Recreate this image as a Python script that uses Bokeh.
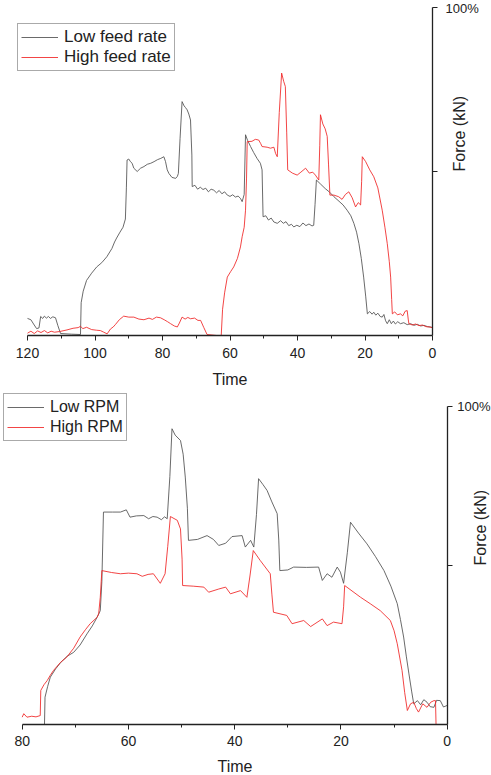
import math
from bokeh.plotting import figure
from bokeh.layouts import column
from bokeh.models import Range1d, FixedTicker, Legend, LegendItem
from bokeh.embed import file_html
from bokeh.resources import INLINE

FONT = "Liberation Sans"
BLACK = "#505050"
RED = "#f02424"

# ---------------- data (time, force %) ----------------
low_feed = [(120,5.2),(119,4.8),(118.2,3.5),(117.3,2.1),(116.6,2.3),(116.1,5.8),(115.5,5.2),(115,5.9),(114.4,5.3),(113.8,5.8),(113.2,5.2),(112.5,5.7),(111.7,5.4),(111,3),(110.2,0.6),(107,0.4),(104.3,0.3),(104.1,10),(103.5,13.5),(102.5,16.8),(101,19),(99.5,20.9),(98,22.2),(96.5,24),(95,26.5),(94.2,28.5),(93.6,29.7),(92.6,31.5),(91.7,33),(91,35.5),(90.7,45),(90.5,53.5),(90,53.8),(89.5,53),(89,52.5),(88.5,51),(87.5,50),(86.5,51),(85.5,51.5),(84.5,52.2),(83.5,52.5),(82.5,53),(81.5,53.6),(80.5,54),(79.6,54.5),(79.1,53),(78.6,50.5),(78.1,49.4),(77.2,48.2),(76.1,47.9),(75.6,48.5),(75.3,49.4),(74.8,60),(74.2,71.3),(73.6,70),(73.2,69.5),(72.7,68.8),(72.2,67.5),(71.7,65.7),(71.3,55),(71.2,45.4),(70.4,45.8),(69.6,44.6),(68.8,45.2),(68,44.5),(67.2,44.9),(66.4,43.8),(65.6,44.6),(64.8,44.3),(64,43.5),(63.2,44.2),(62.4,43.2),(61.6,43.8),(60.8,42.8),(60,42.4),(59.2,42.9),(58.4,42.2),(57.6,42.5),(56.9,41.8),(56.4,40.8),(55.8,43),(55.4,61.2),(54.8,59.5),(53.9,57.6),(53,55.8),(52,54),(51,52.5),(50.5,50.5),(50.2,36.2),(49.4,36.5),(48.6,35.2),(47.8,35.8),(47,34.6),(46,34.2),(45,35),(44.2,34.2),(43.4,34.7),(42.6,33.5),(41.8,33.9),(41.1,33.1),(40.2,33.6),(39.3,33.2),(38.4,34.3),(37.5,33.5),(36.6,34),(35.7,33.4),(35.2,33.6),(34.8,40),(34.4,47.4),(33.2,46.2),(31.8,44.8),(30.5,43.7),(29.2,42.3),(28,41.2),(26.5,39.8),(25.3,38.2),(24.2,36.5),(23.3,34.2),(22.5,31.5),(21.8,28),(21.1,23.5),(20.4,17.8),(19.8,12),(19.3,6.6),(18.6,7.3),(17.9,6.5),(17.4,7.1),(16.8,6.2),(16.2,6.8),(15.5,5.8),(14.9,5.6),(14.4,6.4),(13.9,4.5),(13.4,3.6),(12.8,4.8),(12.2,3.6),(11.6,4.4),(11,3.5),(10.3,4.2),(9.5,3.6),(8.5,3.9),(7.5,3.3),(6.5,3.6),(5.5,3.1),(4.5,3.4),(3.5,2.9),(2.5,3.1),(1.5,2.7),(0.6,2.6),(0,2.4)]

high_feed = [(120,0.7),(119,1.3),(118,0.6),(117,1.4),(116,0.9),(115,1.5),(114,0.8),(113,1.3),(112,1.0),(110.5,1.2),(108.3,1.7),(106.5,2.2),(105,2.4),(104.3,2.8),(103.6,2.1),(102.5,2.5),(101,1.8),(99.5,1.6),(98.4,1.5),(97.4,1.0),(96.4,0.5),(95.4,2),(94.6,2.6),(93.9,3.4),(92.8,4.8),(91.5,5.9),(90,5.6),(88.5,5.6),(87,5.0),(85.5,4.8),(84,5.3),(83,4.9),(81.8,5.6),(80.6,5.4),(79.5,4.8),(78.5,4.2),(77.6,3.6),(76.5,2.9),(75.6,2.6),(75,3.8),(74.2,5.6),(73.3,5.0),(72.5,5.5),(71.7,5.1),(70.5,5.3),(69.5,4.6),(68.7,4.6),(67.8,2.5),(66.8,0.3),(64,0),(62.6,0),(62.2,8),(61.6,13),(60.8,17.8),(59.8,19.5),(58.9,20.9),(57.8,23.5),(56.9,27),(56.4,30.1),(55.8,33),(55.4,38.2),(55.1,48),(54.9,59.1),(53.5,59.2),(52.5,59.8),(51.5,59.6),(50.9,58.5),(50.5,57.6),(49,57.4),(48,57.1),(47,57.4),(46.5,55.5),(46,54.5),(45.4,68),(44.7,80),(44.1,77.5),(43.6,75.9),(43.2,62),(42.9,50.5),(41.5,49.5),(40.1,48.9),(39,49.8),(37.6,51),(36.5,49.5),(35.5,49.8),(34.7,48.9),(33.7,47.4),(33.4,58),(33.2,67.3),(32.5,64.5),(31.8,63),(31.2,60.7),(30.8,52),(30.4,42.8),(29.2,42.8),(27.8,42.3),(26.8,41.5),(25.8,43),(24.8,43.8),(23.8,42),(22.8,39.2),(22,40.5),(21.3,39.8),(21,47),(20.8,54.5),(19.8,53),(18.6,50.5),(17.4,48.4),(16.2,45),(14.9,38.2),(14.1,33),(13.4,28),(12.8,22.5),(12.4,17.8),(12.1,11),(11.9,6.6),(11.2,7.2),(10.4,6.3),(9.5,6.6),(8.8,6.0),(8.1,7.4),(7.5,7.6),(7.2,5),(7,3.6),(6,3.2),(5,3.5),(4,3.0),(3,3.2),(2,2.7),(1,2.6),(0,2.4)]

low_rpm = [(75.8,0),(75.7,8.6),(75.2,12),(74.7,14.9),(73.7,17.5),(72.7,19.6),(71.5,21.5),(70.3,22.7),(69.1,25),(67.8,28.5),(66.8,31),(65.9,33.7),(65.3,35.8),(65.0,45),(64.7,66.8),(63,66.8),(61.5,66.8),(60.4,67.5),(59.7,65.2),(58.5,65.6),(57.1,65.7),(56.2,64.7),(55.4,65.4),(54.6,65.2),(53.8,64.4),(53.2,65.3),(52.7,64.7),(52.2,78),(51.8,93),(51.2,91),(50.2,89.3),(49.7,85),(49.3,77.8),(48.9,68),(48.7,57.9),(47,58.2),(45.2,59.4),(44,58.2),(43,56.3),(41.7,57),(40.5,59.1),(38.6,59.4),(38,55.8),(37,57.9),(36.4,55.8),(35.9,66),(35.5,77.3),(34.7,75.5),(33.9,73.6),(33,70),(32,66.3),(31.7,58),(31.5,48.4),(30,48.6),(28.9,49.5),(26.5,49.4),(24.2,49.5),(23.5,45.3),(22.6,47.4),(21.7,46.3),(20.7,49.5),(20.1,47.9),(19.5,44.4),(18.8,54),(18.2,63.6),(16.7,60.2),(15.1,56.8),(13.5,52.8),(11.9,48.4),(10.6,43.5),(9.4,38),(8.8,33),(8.2,27.5),(7.7,21.5),(7.2,15.9),(6.7,10.5),(6.3,6.5),(5.6,7.5),(5,6.2),(4.4,7.8),(3.8,7),(3.2,5.6),(2.5,5.4),(2.0,7.6),(1.3,7.5),(0.7,5.5),(0,6)]

high_rpm = [(80,2.3),(79.7,3.4),(79.1,2.3),(78.2,2.6),(77.4,2.4),(76.6,2.8),(76.5,10.7),(75.9,12.5),(75.3,13.8),(74.7,15.5),(74.1,17),(72.8,19.5),(71.6,21.2),(70.3,24),(69.1,27.5),(68.1,29.8),(67.2,31.7),(65.9,33.7),(65.6,34.8),(65.3,40),(65,48.4),(63.2,47.8),(61.5,47.4),(60,47.6),(58.4,47.4),(57.4,46.6),(56.3,47.2),(55.3,47.4),(54,44.4),(53.1,47.4),(52.6,56),(52.1,65.4),(50.8,64.2),(50.2,61.5),(49.9,52),(49.8,43.7),(47.8,43.5),(45.8,43.2),(44.9,41.6),(43,42.6),(41.7,43.2),(40.8,41.1),(38.9,42.1),(37.7,40),(37.1,47),(36.5,54.7),(35.2,51.6),(33.3,47.4),(33,41),(32.7,35.3),(30.2,34.3),(29.2,31.7),(27,32.7),(25.7,30.8),(23.5,33.2),(22.6,31.1),(21.4,32.2),(19.8,31.7),(19.5,37),(19.3,43.7),(16.3,40),(14.5,38),(12.6,35.8),(10.7,32.7),(10,29.5),(9.4,25.4),(8.5,17),(8,10),(7.5,4.4),(6.9,6.5),(6.3,7),(5.8,5),(5.4,3.9),(4.6,6.5),(3.8,5.4),(3.1,7),(2.5,7.5),(2.2,7.5),(2.1,0),(0,0)]

top_labels = ["Low feed rate", "High feed rate"]
bottom_labels = ["Low RPM", "High RPM"]
top_xticks = [0, 20, 40, 60, 80, 100, 120]
top_xminor = [10, 30, 50, 70, 90, 110]
bottom_xticks = [0, 20, 40, 60, 80]
bottom_xminor = [10, 30, 50, 70]
y_ticks = [50, 100]
y_tick_text = {50: "", 100: "100%"}


def panel(height, xmax, xspan, yspan, series, labels, xticks, xminor,
          legend_loc, legend_font, lab_standoff, title_standoff,
          ytick_standoff, ylab_standoff):
    # the frame fills the whole canvas; the axes sit at fixed data locations
    p = figure(width=491, height=height, x_range=Range1d(*xspan),
               y_range=Range1d(*yspan), y_axis_location="right",
               output_backend="svg", toolbar_location=None,
               min_border_left=0, min_border_right=0,
               min_border_top=0, min_border_bottom=0)
    p.frame_align = False
    p.outline_line_color = None
    p.grid.visible = False
    p.background_fill_color = "white"
    p.border_fill_color = "white"

    rends = []
    for data, col in zip(series, [BLACK, RED]):
        xs = [d[0] for d in data]
        ys = [d[1] for d in data]
        rends.append(p.line(xs, ys, line_color=col, line_width=1.0, line_alpha=0.85))

    xa = p.xaxis[0]
    xa.fixed_location = 0
    xa.bounds = (0, xmax)
    xa.ticker = FixedTicker(ticks=xticks, minor_ticks=xminor)
    xa.major_tick_in = 0
    xa.major_tick_out = 5
    xa.minor_tick_in = 0
    xa.minor_tick_out = 3
    xa.axis_line_width = 1.3
    xa.axis_line_color = "#222222"
    xa.major_tick_line_color = "#222222"
    xa.minor_tick_line_color = "#222222"
    xa.major_label_text_font = FONT
    xa.major_label_text_font_size = "14px"
    xa.major_label_text_color = "#222222"
    xa.major_label_standoff = lab_standoff
    xa.axis_label = "Time"
    xa.axis_label_text_font = FONT
    xa.axis_label_text_font_style = "normal"
    xa.axis_label_text_font_size = "16px"
    xa.axis_label_text_color = "#222222"
    xa.axis_label_standoff = title_standoff

    ya = p.yaxis[0]
    ya.fixed_location = 0
    ya.bounds = (0, 100)
    ya.ticker = FixedTicker(ticks=y_ticks, minor_ticks=[])
    ya.major_label_overrides = y_tick_text
    ya.major_tick_in = 0
    ya.major_tick_out = 5
    ya.axis_line_width = 1.3
    ya.axis_line_color = "#222222"
    ya.major_tick_line_color = "#222222"
    ya.major_label_text_font = FONT
    ya.major_label_text_font_size = "13px"
    ya.major_label_text_color = "#222222"
    ya.major_label_standoff = ytick_standoff
    ya.axis_label = "Force (kN)"
    ya.axis_label_text_font = FONT
    ya.axis_label_text_font_style = "normal"
    ya.axis_label_text_font_size = "16px"
    ya.axis_label_text_color = "#222222"
    ya.axis_label_orientation = math.pi / 2
    ya.axis_label_standoff = ylab_standoff

    legend = Legend(items=[LegendItem(label=labels[0], renderers=[rends[0]]),
                           LegendItem(label=labels[1], renderers=[rends[1]])],
                    location=legend_loc)
    legend.margin = 0
    legend.padding = 3
    legend.spacing = 0
    legend.glyph_width = 37
    legend.glyph_height = 20
    legend.label_height = 20
    legend.label_standoff = 6
    legend.label_text_font = FONT
    legend.label_text_font_size = legend_font
    legend.label_text_color = "#222222"
    legend.border_line_color = "#555555"
    legend.border_line_width = 1
    legend.background_fill_alpha = 1
    p.add_layout(legend)
    return p


top = panel(390, 120, (128.0, -17.48), (-16.77, 102.13), [low_feed, high_feed],
            top_labels, top_xticks, top_xminor, (17, 319), "17px", 8, 9, 8, -22)
bottom = panel(385, 80, (84.08, -8.34), (-16.04, 105.03), [low_rpm, high_rpm],
               bottom_labels, bottom_xticks, bottom_xminor, (3, 334), "16px", 7, 8, 5, -13)

layout = column(top, bottom, spacing=0)
open("out.html", "w").write(file_html(layout, INLINE))
